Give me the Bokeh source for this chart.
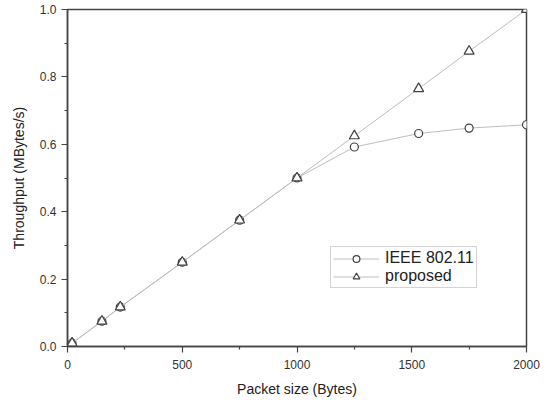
from bokeh.plotting import figure
from bokeh.models import Legend, LegendItem, Range1d, FixedTicker, CustomJSTickFormatter
from bokeh.embed import file_html
from bokeh.resources import INLINE

packet_size = [20, 150, 230, 500, 750, 1000, 1250, 1530, 1750, 2000]
ieee_80211 = [0.01, 0.075, 0.117, 0.25, 0.375, 0.5, 0.592, 0.632, 0.648, 0.658]
proposed = [0.01, 0.075, 0.117, 0.25, 0.375, 0.5, 0.625, 0.765, 0.876, 1.0]

x_ticks = [0, 500, 1000, 1500, 2000]
x_minor = [250, 750, 1250, 1750]
y_ticks = [0.0, 0.2, 0.4, 0.6, 0.8, 1.0]
y_minor = [0.1, 0.3, 0.5, 0.7, 0.9]

FONT = "Liberation Sans"
AX = "#444444"

p = figure(width=541, height=399, output_backend="svg", toolbar_location=None,
           x_range=Range1d(0, 2000), y_range=Range1d(0, 1.0),
           min_border_left=67, min_border_right=15, min_border_top=9, min_border_bottom=52)
p.grid.visible = False
p.background_fill_color = "white"
p.outline_line_color = AX
p.outline_line_width = 1.5

line_col = "#bdbdbd"
mk_col = "#404040"
l1 = p.line(packet_size, ieee_80211, line_color=line_col, line_width=1)
m1 = p.scatter(packet_size, ieee_80211, marker="circle", size=8, line_color=mk_col,
               fill_color="white", line_width=1.2)
l2 = p.line(packet_size, proposed, line_color=line_col, line_width=1)
m2 = p.scatter(packet_size, proposed, marker="triangle", size=10, line_color=mk_col,
               fill_color="white", line_width=1.2)

p.xaxis.ticker = FixedTicker(ticks=x_ticks, minor_ticks=x_minor)
p.yaxis.ticker = FixedTicker(ticks=y_ticks, minor_ticks=y_minor)
p.yaxis.formatter = CustomJSTickFormatter(code="return tick.toFixed(1);")

for ax in (p.xaxis, p.yaxis):
    ax.axis_line_color = AX
    ax.axis_line_width = 1.5
    ax.major_tick_line_color = AX
    ax.minor_tick_line_color = AX
    ax.major_tick_line_width = 1.2
    ax.minor_tick_line_width = 1.2
    ax.major_tick_in = 0
    ax.major_tick_out = 6
    ax.minor_tick_in = 0
    ax.minor_tick_out = 3
    ax.major_label_text_font = FONT
    ax.major_label_text_font_size = "12px"
    ax.major_label_text_color = "#333333"
    ax.axis_label_text_font = FONT
    ax.axis_label_text_font_size = "14px"
    ax.axis_label_text_font_style = "normal"
    ax.axis_label_text_color = "#222222"

p.xaxis.axis_label = "Packet size (Bytes)"
p.yaxis.axis_label = "Throughput (MBytes/s)"
p.xaxis.major_label_standoff = 7
p.xaxis.axis_label_standoff = 9
p.yaxis.axis_label_standoff = 10

legend = Legend(items=[LegendItem(label="IEEE 802.11", renderers=[l1, m1]),
                       LegendItem(label="proposed", renderers=[l2, m2])],
                location=(263, 58))
legend.label_text_font = FONT
legend.label_text_font_size = "16px"
legend.label_text_color = "#222222"
legend.border_line_color = "#aaaaaa"
legend.border_line_width = 1
legend.background_fill_alpha = 1
legend.glyph_width = 46
legend.glyph_height = 17
legend.label_standoff = 6
legend.label_height = 17
legend.spacing = 0
legend.padding = 2
legend.margin = 0
p.add_layout(legend, "center")

open("out.html", "w").write(file_html(p, INLINE))
